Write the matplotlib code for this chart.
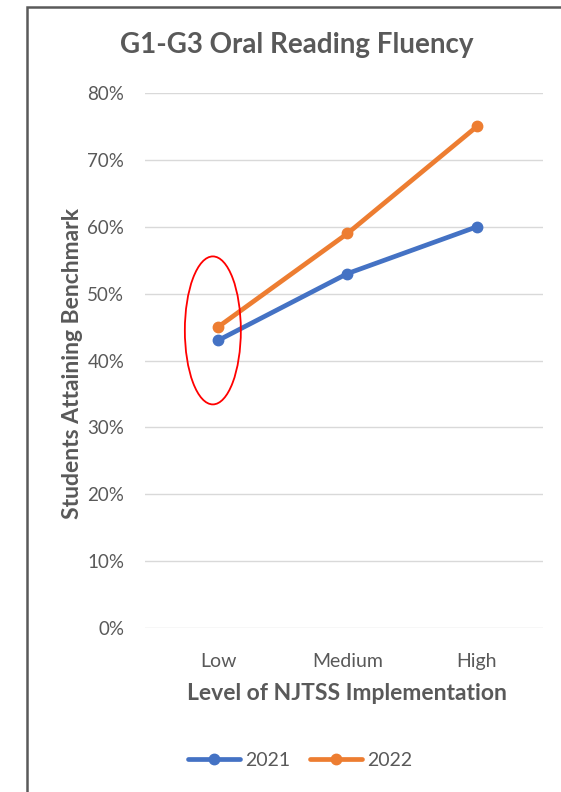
import matplotlib.pyplot as plt
from matplotlib.patches import Ellipse, Rectangle

LEVELS = ["Low", "Medium", "High"]
YEARS = ["2021", "2022"]
SCORES_2021 = [0.43, 0.53, 0.60]
SCORES_2022 = [0.45, 0.59, 0.75]
COLORS = ["#4472C4", "#ED7D31"]
Y_TICKS = [0, 0.1, 0.2, 0.3, 0.4, 0.5, 0.6, 0.7, 0.8]

W, H = 561, 792
plt.rcParams['font.family'] = ['Lato', 'DejaVu Sans']

fig = plt.figure(figsize=(W / 100, H / 100), dpi=100)
fig.patch.set_facecolor("white")

# frame around the chart (cropped on right and bottom)
fig.add_artist(Rectangle((27 / W, -0.05), 1.2, 1.05 - 7 / H, transform=fig.transFigure,
                         fill=False, edgecolor="#5a5a5a", linewidth=1.8))

ax = fig.add_axes([145 / W, 1 - 628 / H, (543 - 145) / W, (628 - 93) / H])
x = list(range(len(LEVELS)))
for vals, year, color in zip([SCORES_2021, SCORES_2022], YEARS, COLORS):
    ax.plot(x, vals, color=color, linewidth=3.4, marker="o", markersize=7.5,
            solid_capstyle="round", label=year, zorder=3)

ax.set_ylim(0, 0.8)
ax.set_xlim(-0.564, 2.51)
ax.set_yticks(Y_TICKS)
ax.set_yticklabels([f"{int(round(t * 100))}%" for t in Y_TICKS], color="#595959", fontsize=13.5)
ax.set_xticks(x)
ax.set_xticklabels(LEVELS, color="#595959", fontsize=14)
ax.tick_params(length=0)
ax.tick_params(axis="x", pad=18)
ax.tick_params(axis="y", pad=15)
ax.grid(axis="y", color="#d9d9d9", linewidth=1)
ax.set_axisbelow(True)
for s in ax.spines.values():
    s.set_visible(False)

ax.set_ylabel("Students Attaining Benchmark", fontsize=16.5, fontweight="bold", color="#595959")
ax.yaxis.set_label_coords(-0.156, 0.495)
ax.set_xlabel("Level of NJTSS Implementation", fontsize=16.5, fontweight="bold", color="#595959")
ax.xaxis.set_label_coords(0.508, -0.103)

# red ellipse highlighting the low level
ax.add_patch(Ellipse((-0.04, 0.445), width=56 / 129.5, height=148 / 668.75,
                     fill=False, edgecolor="red", linewidth=1.3, zorder=4))

fig.text(297 / W, 1 - 45 / H, "G1-G3 Oral Reading Fluency", ha="center", va="center",
         fontsize=20, fontweight="bold", color="#595959")

fig.legend(loc="center", bbox_to_anchor=(300 / W, 1 - 760 / H), ncol=2, frameon=False,
           fontsize=14, labelcolor="#595959", handlelength=2.7, columnspacing=1.0,
           handletextpad=0.25)

fig.savefig("out.png", dpi=100)
